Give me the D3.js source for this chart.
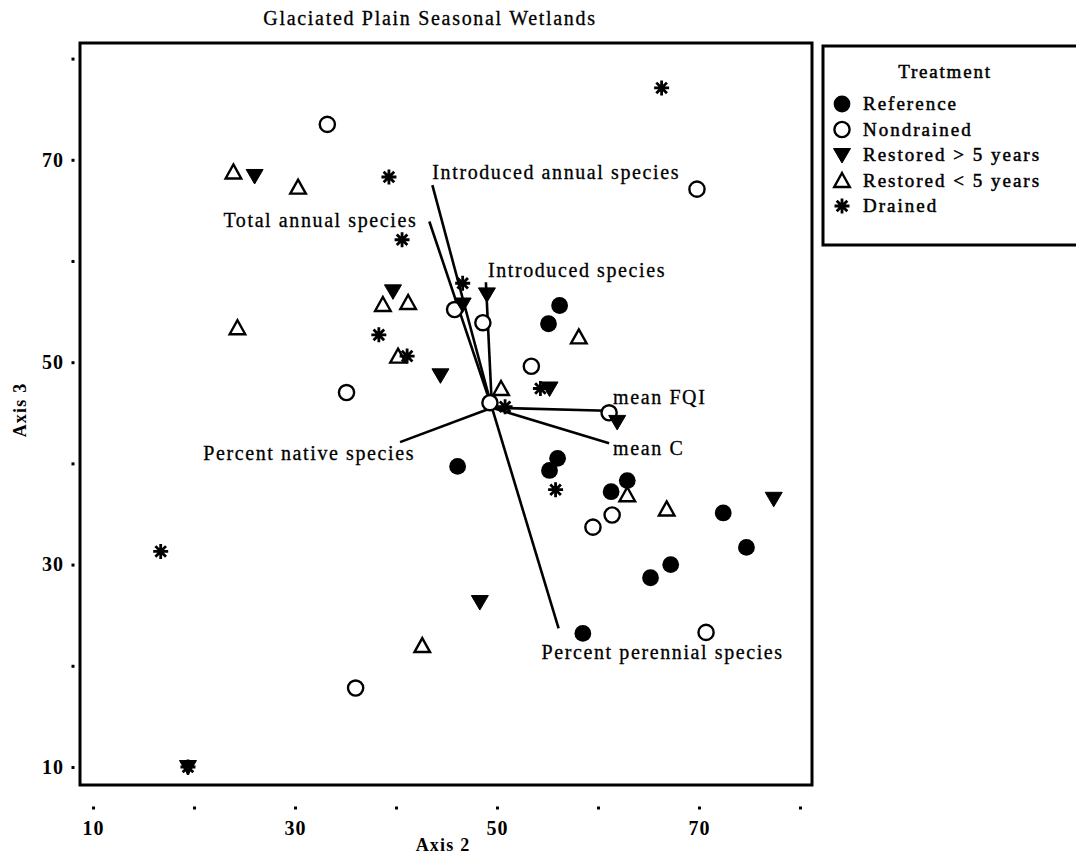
<!DOCTYPE html>
<html>
<head>
<meta charset="utf-8">
<script src="https://cdn.jsdelivr.net/npm/d3@7"></script>
<style>
  html, body { margin: 0; padding: 0; background: #fff; }
  svg { display: block; font-family: "Liberation Serif", "Times New Roman", serif; }
</style>
</head>
<body>
<svg id="chart" width="1076" height="858"></svg>
<script>
// Ordination scores (Axis 2, Axis 3) for each wetland, grouped by treatment
const treatments = ["Reference", "Nondrained", "Restored > 5 years", "Restored < 5 years", "Drained"];

const referenceX = [56.2, 55.1, 46.1, 56.0, 55.2, 62.9, 61.3, 72.4, 74.7, 67.2, 65.2, 58.5];
const referenceY = [55.6, 53.8, 39.7, 40.5, 39.3, 38.3, 37.2, 35.1, 31.7, 30.0, 28.7, 23.2];

const nondrainedX = [33.2, 69.8, 45.8, 48.6, 53.4, 35.1, 49.3, 61.1, 61.4, 59.5, 70.7, 36.0];
const nondrainedY = [73.5, 67.1, 55.2, 53.9, 49.6, 47.0, 46.0, 45.0, 34.9, 33.7, 23.3, 17.8];

const restoredOldX = [26.0, 39.7, 46.6, 49.0, 44.4, 55.2, 61.9, 77.4, 48.3, 19.4];
const restoredOldY = [68.4, 57.0, 55.7, 56.7, 48.7, 47.4, 44.1, 36.5, 26.3, 10.0];

const restoredNewX = [23.9, 30.3, 24.3, 38.7, 41.2, 40.2, 50.4, 58.1, 62.9, 66.8, 42.6];
const restoredNewY = [68.8, 67.3, 53.4, 55.7, 55.9, 50.6, 47.4, 52.5, 36.9, 35.5, 22.0];

const drainedX = [66.3, 39.3, 40.6, 46.6, 38.3, 41.1, 54.3, 50.8, 55.8, 16.7, 19.4];
const drainedY = [77.1, 68.3, 62.1, 57.8, 52.7, 50.6, 47.4, 45.6, 37.4, 31.3, 10.0];

// Biplot vectors: common origin and end point of each variable
const vectorOrigin = [49.5, 45.5];
const vectorNames = ["Introduced annual species", "Total annual species", "Introduced species",
                     "mean FQI", "mean C", "Percent native species", "Percent perennial species"];
const vectorEndX = [43.6, 43.3, 48.9, 60.9, 61.1, 40.4, 56.1];
const vectorEndY = [67.5, 63.9, 57.9, 45.2, 42.0, 42.1, 23.7];

// Axis ticks
const xTicks = [10, 20, 30, 40, 50, 60, 70, 80];
const yTicks = [10, 20, 30, 40, 50, 60, 70, 80];
const xTickLabels = [10, 30, 50, 70];
const yTickLabels = [10, 30, 50, 70];

// ---------------------------------------------------------------------------
const svg = d3.select("#chart");

const frame = { left: 80, right: 812, top: 43, bottom: 785 };
const x = d3.scaleLinear().domain([8.71, 81.19]).range([frame.left, frame.right]);
const y = d3.scaleLinear().domain([8.22, 81.54]).range([frame.bottom, frame.top]);

// Marker shapes
function markerPath(kind) {
  const p = d3.path();
  if (kind === "circle") {
    p.arc(0, 0, 8.4, 0, 2 * Math.PI);
  } else if (kind === "ring") {
    p.arc(0, 0, 7.6, 0, 2 * Math.PI);
  } else if (kind === "down") {
    p.moveTo(-8.5, -6.5); p.lineTo(8.5, -6.5); p.lineTo(0, 8); p.closePath();
  } else if (kind === "up") {
    p.moveTo(0, -7.5); p.lineTo(7.8, 6.5); p.lineTo(-7.8, 6.5); p.closePath();
  } else if (kind === "star") {
    const r = 7.5, d = r * Math.SQRT1_2;
    p.moveTo(0, -r); p.lineTo(0, r);
    p.moveTo(-r, 0); p.lineTo(r, 0);
    p.moveTo(-d, -d); p.lineTo(d, d);
    p.moveTo(-d, d); p.lineTo(d, -d);
  }
  return p.toString();
}

const markerStyle = {
  "circle": { fill: "#000", stroke: "none", sw: 0 },
  "ring":   { fill: "#fff", stroke: "#000", sw: 2.4 },
  "down":   { fill: "#000", stroke: "#000", sw: 1 },
  "up":     { fill: "none", stroke: "#000", sw: 2.4 },
  "star":   { fill: "none", stroke: "#000", sw: 2.8 }
};
const treatmentMarker = ["circle", "ring", "down", "up", "star"];

function drawMarker(g, kind, px, py) {
  const s = markerStyle[kind];
  g.append("path")
    .attr("d", markerPath(kind))
    .attr("transform", `translate(${px},${py})`)
    .attr("fill", s.fill)
    .attr("stroke", s.stroke)
    .attr("stroke-width", s.sw)
    .attr("stroke-linejoin", "miter");
}

// Slightly heavier text, like a printed figure
function inked(sel, w) {
  return sel.attr("fill", "#000").attr("stroke", "#000").attr("stroke-width", w).attr("paint-order", "stroke");
}

// Title
inked(svg.append("text")
  .attr("x", 430).attr("y", 25)
  .attr("text-anchor", "middle")
  .attr("font-size", 20)
  .attr("letter-spacing", 1.7)
  .text("Glaciated Plain Seasonal Wetlands"), 0.3);

// Plot frame
svg.append("rect")
  .attr("x", frame.left).attr("y", frame.top)
  .attr("width", frame.right - frame.left)
  .attr("height", frame.bottom - frame.top)
  .attr("fill", "none")
  .attr("stroke", "#000")
  .attr("stroke-width", 3);

// X axis: dot ticks below the frame
const xAxis = d3.axisBottom(x)
  .tickValues(xTicks)
  .tickSize(0)
  .tickPadding(13)
  .tickFormat(d => xTickLabels.includes(d) ? d : "");
const gx = svg.append("g").attr("transform", "translate(0,808)").call(xAxis);
gx.select(".domain").remove();
gx.selectAll(".tick").append("rect")
  .attr("x", -1.5).attr("y", -1.5).attr("width", 3).attr("height", 3).attr("fill", "#000");
gx.selectAll(".tick text")
  .attr("font-family", "Liberation Serif, serif")
  .attr("font-size", 20).attr("font-weight", "bold").attr("letter-spacing", 1).attr("fill", "#000");

// Y axis
const yAxis = d3.axisLeft(y)
  .tickValues(yTicks)
  .tickSize(0)
  .tickPadding(9)
  .tickFormat(d => yTickLabels.includes(d) ? d : "");
const gy = svg.append("g").attr("transform", "translate(73,0)").call(yAxis);
gy.select(".domain").remove();
gy.selectAll(".tick").append("rect")
  .attr("x", -1.5).attr("y", -1.5).attr("width", 3).attr("height", 3).attr("fill", "#000");
gy.selectAll(".tick text")
  .attr("font-family", "Liberation Serif, serif")
  .attr("font-size", 20).attr("font-weight", "bold").attr("letter-spacing", 1).attr("fill", "#000");

// Axis titles
svg.append("text")
  .attr("x", 443).attr("y", 851)
  .attr("text-anchor", "middle")
  .attr("font-size", 18).attr("font-weight", "bold").attr("letter-spacing", 1.2)
  .text("Axis 2");
svg.append("text")
  .attr("transform", "translate(26,410) rotate(-90)")
  .attr("text-anchor", "middle")
  .attr("font-size", 18).attr("font-weight", "bold").attr("letter-spacing", 1.2)
  .text("Axis 3");

// Biplot vectors
const gVec = svg.append("g");
const labelLayout = [
  { anchor: "start", dx: 0,   dy: -6 },
  { anchor: "end",   dx: -12, dy: 5 },
  { anchor: "start", dx: 2,   dy: -5 },
  { anchor: "start", dx: 6,   dy: -7 },
  { anchor: "start", dx: 4,   dy: 12 },
  { anchor: "end",   dx: 15,  dy: 18 },
  { anchor: "start", dx: -17, dy: 31 }
];
vectorNames.forEach((name, i) => {
  const x0 = x(vectorOrigin[0]), y0 = y(vectorOrigin[1]);
  const x1 = x(vectorEndX[i]), y1 = y(vectorEndY[i]);
  gVec.append("line")
    .attr("x1", x0).attr("y1", y0).attr("x2", x1).attr("y2", y1)
    .attr("stroke", "#000").attr("stroke-width", 2.6);
  const L = labelLayout[i];
  inked(gVec.append("text")
    .attr("x", x1 + L.dx).attr("y", y1 + L.dy)
    .attr("text-anchor", L.anchor)
    .attr("font-size", 20)
    .attr("letter-spacing", 1.6)
    .text(name), 0.3);
});

// Site markers
const gPts = svg.append("g");
const seriesX = [referenceX, nondrainedX, restoredOldX, restoredNewX, drainedX];
const seriesY = [referenceY, nondrainedY, restoredOldY, restoredNewY, drainedY];
const drawOrder = [4, 0, 1, 3, 2];
drawOrder.forEach(k => {
  seriesX[k].forEach((v, i) => drawMarker(gPts, treatmentMarker[k], x(v), y(seriesY[k][i])));
});

// Legend
const legend = svg.append("g");
legend.append("path")
  .attr("d", "M1076,46 L823,46 L823,245 L1076,245")
  .attr("fill", "#fff").attr("stroke", "#000").attr("stroke-width", 3);
inked(legend.append("text")
  .attr("x", 945).attr("y", 78)
  .attr("text-anchor", "middle")
  .attr("font-size", 19).attr("letter-spacing", 1.8)
  .text("Treatment"), 0.5);
treatments.forEach((t, i) => {
  const cy = 104 + i * 25.5;
  drawMarker(legend, treatmentMarker[i], 842, cy);
  inked(legend.append("text")
    .attr("x", 863).attr("y", cy + 6)
    .attr("font-size", 19).attr("letter-spacing", 2)
    .text(t), 0.5);
});
</script>
</body>
</html>
